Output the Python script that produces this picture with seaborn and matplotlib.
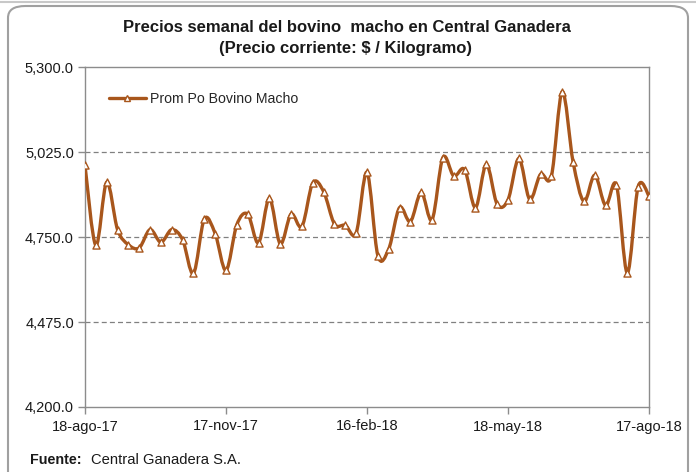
import numpy as np
import pandas as pd
import matplotlib
matplotlib.use('Agg')
import matplotlib.pyplot as plt
import matplotlib.dates as mdates
from matplotlib.path import Path
from matplotlib.patches import PathPatch, FancyBboxPatch
from matplotlib.lines import Line2D
import seaborn as sns

# weekly prices, 18-ago-17 .. 17-ago-18
fechas = pd.date_range('2017-08-18', periods=53, freq='7D')
precios = [4982, 4723, 4927, 4774, 4725, 4715, 4774, 4733, 4774, 4741,
           4632, 4808, 4761, 4642, 4790, 4824, 4731, 4875, 4728, 4824,
           4784, 4925, 4897, 4792, 4788, 4763, 4959, 4690, 4711, 4845,
           4800, 4894, 4806, 5007, 4947, 4968, 4845, 4985, 4856, 4870,
           5004, 4872, 4953, 4947, 5220, 4993, 4865, 4950, 4852, 4918,
           4634, 4913, 4883]
tick_fechas = ['2017-08-18', '2017-11-17', '2018-02-16', '2018-05-18', '2018-08-17']
tick_labels = ['18-ago-17', '17-nov-17', '16-feb-18', '18-may-18', '17-ago-18']
y_ticks = [4200, 4475, 4750, 5025, 5300]

df = pd.DataFrame({'fecha': fechas, 'precio': precios})

color = '#A8561C'

sns.set_style('white')
plt.rcParams['font.family'] = ['Liberation Sans', 'DejaVu Sans']

fig = plt.figure(figsize=(6.96, 4.72), dpi=100)
ax = fig.add_axes([85 / 696, 1 - 407 / 472, (649 - 85) / 696, (407 - 67) / 472])

# smoothed line (Excel style bezier through the points)
xs = mdates.date2num(df['fecha'])
ys = np.array(df['precio'], dtype=float)
verts = [(xs[0], ys[0])]
codes = [Path.MOVETO]
n = len(xs)
for i in range(n - 1):
    x0, y0 = (xs[i - 1], ys[i - 1]) if i > 0 else (xs[i], ys[i])
    x3, y3 = (xs[i + 2], ys[i + 2]) if i + 2 < n else (xs[i + 1], ys[i + 1])
    c1 = (xs[i] + (xs[i + 1] - x0) / 6, ys[i] + (ys[i + 1] - y0) / 6)
    c2 = (xs[i + 1] - (x3 - xs[i]) / 6, ys[i + 1] - (y3 - ys[i]) / 6)
    verts += [c1, c2, (xs[i + 1], ys[i + 1])]
    codes += [Path.CURVE4] * 3
ax.add_patch(PathPatch(Path(verts, codes), facecolor='none', edgecolor=color,
                       lw=2.4, zorder=3, capstyle='round', joinstyle='round'))

sns.scatterplot(data=df, x='fecha', y='precio', marker='^', s=26,
                color='white', edgecolor=color, linewidth=1.0, zorder=4, ax=ax)

ax.set_xlim(xs[0], xs[-1])
ax.set_ylim(4200, 5300)
ax.set_yticks(y_ticks)
ax.set_yticklabels([f'{v:,.1f}' for v in y_ticks])
ax.set_xticks(mdates.date2num(pd.to_datetime(tick_fechas)))
ax.set_xticklabels(tick_labels)
ax.set_xlabel('')
ax.set_ylabel('')
for v in y_ticks[1:-1]:
    ax.axhline(v, color='#808080', lw=0.9, ls=(0, (4, 2.5)), zorder=1)

for s in ax.spines.values():
    s.set_color('#8c8c8c')
    s.set_linewidth(1.0)
ax.tick_params(axis='both', direction='out', length=5, width=1, color='#8c8c8c',
               labelsize=10.5, labelcolor='#1a1a1a', pad=3, left=True, bottom=True)
ax.tick_params(axis='x', pad=4)

handle = Line2D([], [], color=color, lw=2.4, marker='^', markersize=4.5,
                markerfacecolor='white', markeredgecolor=color)
ax.legend([handle], ['Prom Po Bovino Macho'], loc='upper left',
          bbox_to_anchor=(0.02, 0.965), frameon=False, fontsize=10.2,
          handlelength=2.6, handletextpad=0.3)

fig.text(0.499, 1 - 28 / 472, 'Precios semanal del bovino  macho en Central Ganadera',
         ha='center', va='center', fontsize=12, fontweight='bold', color='#1a1a1a')
fig.text(0.497, 1 - 48 / 472, '(Precio corriente: $ / Kilogramo)',
         ha='center', va='center', fontsize=12, fontweight='bold', color='#1a1a1a')

fig.text(30 / 696, 1 - 460 / 472, 'Fuente:', ha='left', va='center',
         fontsize=10.3, fontweight='bold', color='#1a1a1a')
fig.text(91 / 696, 1 - 460 / 472, 'Central Ganadera S.A.', ha='left', va='center',
         fontsize=10.6, color='#1a1a1a')

# outer chart frame
fig.patches.append(FancyBboxPatch((8 / 696, -0.05), 680 / 696, 1.05 - 6 / 472,
                                  boxstyle='round,pad=0,rounding_size=0.025',
                                  transform=fig.transFigure, facecolor='none',
                                  edgecolor='#a0a0a0', lw=1.5))
fig.add_artist(Line2D([0, 1], [1 - 2 / 472, 1 - 2 / 472], color='#c8c8c8', lw=1.5,
                      transform=fig.transFigure))

fig.savefig('out.png', dpi=100)
